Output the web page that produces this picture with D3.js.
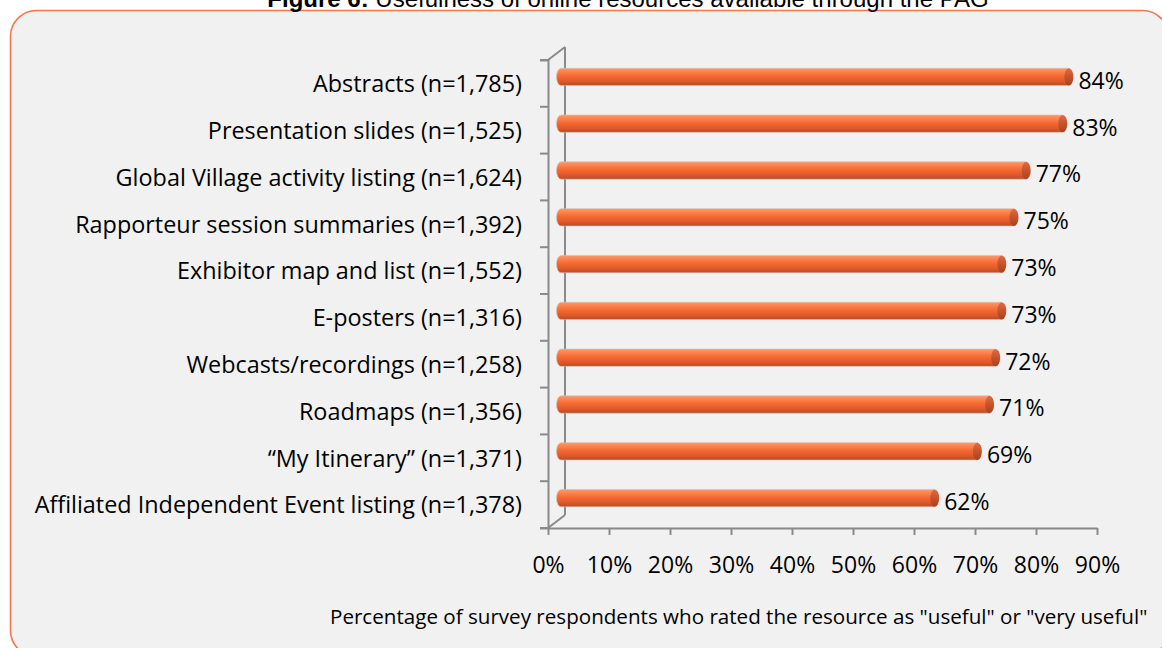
<!DOCTYPE html>
<html>
<head>
<meta charset="utf-8">
<script src="https://cdn.jsdelivr.net/npm/d3@7"></script>
<style>
  html, body { margin: 0; padding: 0; background: #ffffff; overflow: hidden; }
  svg { display: block; }
</style>
</head>
<body>
<svg id="chart" width="1162" height="648"></svg>
<script>
// Resources, top to bottom
const categories = [
  "Abstracts (n=1,785)",
  "Presentation slides (n=1,525)",
  "Global Village activity listing (n=1,624)",
  "Rapporteur session summaries (n=1,392)",
  "Exhibitor map and list (n=1,552)",
  "E-posters (n=1,316)",
  "Webcasts/recordings (n=1,258)",
  "Roadmaps (n=1,356)",
  "\u201cMy Itinerary\u201d (n=1,371)",
  "Affiliated Independent Event listing (n=1,378)"
];
// Share rating the resource useful or very useful (%)
const usefulPct = [84, 83, 77, 75, 73, 73, 72, 71, 69, 62];
const xTicks = [0, 10, 20, 30, 40, 50, 60, 70, 80, 90];

const titleBold = "Figure 6:";
const titleRest = " Usefulness of online resources available through the PAG";
const xAxisTitle = 'Percentage of survey respondents who rated the resource as "useful" or "very useful"';

const svg = d3.select("#chart");
const labelFont = "'Open Sans', 'Noto Sans', sans-serif";
const labelSize = 23.4;

// Frame
svg.append("rect")
  .attr("x", 10.5).attr("y", 10.5)
  .attr("width", 1158).attr("height", 646)
  .attr("rx", 26).attr("ry", 26)
  .attr("fill", "#f1f1f1")
  .attr("stroke", "#f5774a").attr("stroke-width", 1.6);

// Title, running off the top edge of the page
const title = svg.append("text")
  .attr("x", 628).attr("y", 7)
  .attr("text-anchor", "middle")
  .attr("font-family", "Arial, 'Liberation Sans', sans-serif")
  .attr("font-size", 24)
  .attr("fill", "#000");
title.append("tspan").attr("font-weight", "bold").text(titleBold);
title.append("tspan").text(titleRest);

// Plot geometry
const plotL = 548, plotR = 1097, plotT = 60, plotB = 528;
const depthX = 17, depthY = -13;

const x = d3.scaleLinear().domain([0, 90]).range([plotL, plotR]);
const y = d3.scaleBand().domain(categories).range([plotT, plotB]).padding(0);

const axisColor = "#8a8a8a";

// Back wall edges (3D frame)
const wall = svg.append("g").attr("stroke", axisColor).attr("stroke-width", 2).attr("fill", "none");
wall.append("line")
  .attr("x1", plotL + depthX).attr("y1", plotT + depthY)
  .attr("x2", plotL + depthX).attr("y2", plotB + depthY);
wall.append("line")
  .attr("x1", plotL).attr("y1", plotT)
  .attr("x2", plotL + depthX).attr("y2", plotT + depthY);
wall.append("line")
  .attr("x1", plotL).attr("y1", plotB)
  .attr("x2", plotL + depthX).attr("y2", plotB + depthY);

// Y axis line with category separators
const yAxis = d3.axisLeft(y).tickSize(8).tickFormat("");
const yAxisG = svg.append("g")
  .attr("transform", `translate(${plotL},0)`)
  .call(yAxis);
yAxisG.selectAll(".tick").remove();
const boundaries = d3.range(categories.length + 1).map(i => plotT + i * y.step());
yAxisG.selectAll(".sep").data(boundaries).join("line")
  .attr("class", "sep")
  .attr("x1", -8).attr("x2", 0)
  .attr("y1", d => d).attr("y2", d => d);
yAxisG.selectAll("path, line").attr("stroke", axisColor).attr("stroke-width", 2);

// X axis
const xAxis = d3.axisBottom(x).tickValues(xTicks).tickSize(7).tickSizeOuter(0)
  .tickFormat(d => d + "%");
const xAxisG = svg.append("g")
  .attr("transform", `translate(0,${plotB})`)
  .call(xAxis);
xAxisG.selectAll("path, line").attr("stroke", axisColor).attr("stroke-width", 2);
xAxisG.selectAll("text")
  .attr("font-family", labelFont)
  .attr("font-size", 23)
  .attr("fill", "#000")
  .attr("y", 45)
  .attr("dy", 0);

// Category labels
svg.append("g").selectAll("text").data(categories).join("text")
  .attr("x", 522)
  .attr("y", d => y(d) + y.bandwidth() / 2)
  .attr("dy", "0.38em")
  .attr("text-anchor", "end")
  .attr("font-family", labelFont)
  .attr("font-size", labelSize)
  .attr("fill", "#000")
  .text(d => d);

// Cylinder shading
const defs = svg.append("defs");
const grad = defs.append("linearGradient").attr("id", "cyl")
  .attr("x1", 0).attr("y1", 0).attr("x2", 0).attr("y2", 1);
[["0%", "#f59a72"], ["16%", "#ff8750"], ["45%", "#f46a34"], ["78%", "#de5727"], ["100%", "#b04d2c"]]
  .forEach(([o, c]) => grad.append("stop").attr("offset", o).attr("stop-color", c));
const capGrad = defs.append("linearGradient").attr("id", "cap")
  .attr("x1", 0).attr("y1", 0).attr("x2", 0).attr("y2", 1);
[["0%", "#de6c45"], ["50%", "#c8522a"], ["100%", "#a5431f"]]
  .forEach(([o, c]) => capGrad.append("stop").attr("offset", o).attr("stop-color", c));

const barH = y.bandwidth() * 0.37;
const capRx = 4.5;
const rows = categories.map((c, i) => ({ c, v: usefulPct[i] }));

const bars = svg.append("g").selectAll("g").data(rows).join("g")
  .attr("transform", d => `translate(${depthX / 2},${y(d.c) + y.bandwidth() / 2 + depthY / 2})`);

// body with rounded left end
bars.append("path")
  .attr("d", d => {
    const x0 = x(0), x1 = x(d.v), h = barH / 2;
    return `M${x1},${-h} L${x0 + capRx},${-h} A${capRx},${h} 0 0 0 ${x0 + capRx},${h} L${x1},${h} Z`;
  })
  .attr("fill", "url(#cyl)")
  .attr("stroke", "#d9bfb2").attr("stroke-width", 0.6);

// right end cap
bars.append("ellipse")
  .attr("cx", d => x(d.v)).attr("cy", 0)
  .attr("rx", capRx).attr("ry", barH / 2)
  .attr("fill", "url(#cap)");

// value labels
bars.append("text")
  .attr("x", d => x(d.v) + capRx + 5)
  .attr("y", 0)
  .attr("dy", "0.52em")
  .attr("font-family", labelFont)
  .attr("font-size", 23)
  .attr("fill", "#000")
  .text(d => d.v + "%");

// Axis title
svg.append("text")
  .attr("x", 330).attr("y", 624)
  .attr("font-family", labelFont)
  .attr("font-size", 20.6)
  .attr("fill", "#000")
  .text(xAxisTitle);
</script>
</body>
</html>
